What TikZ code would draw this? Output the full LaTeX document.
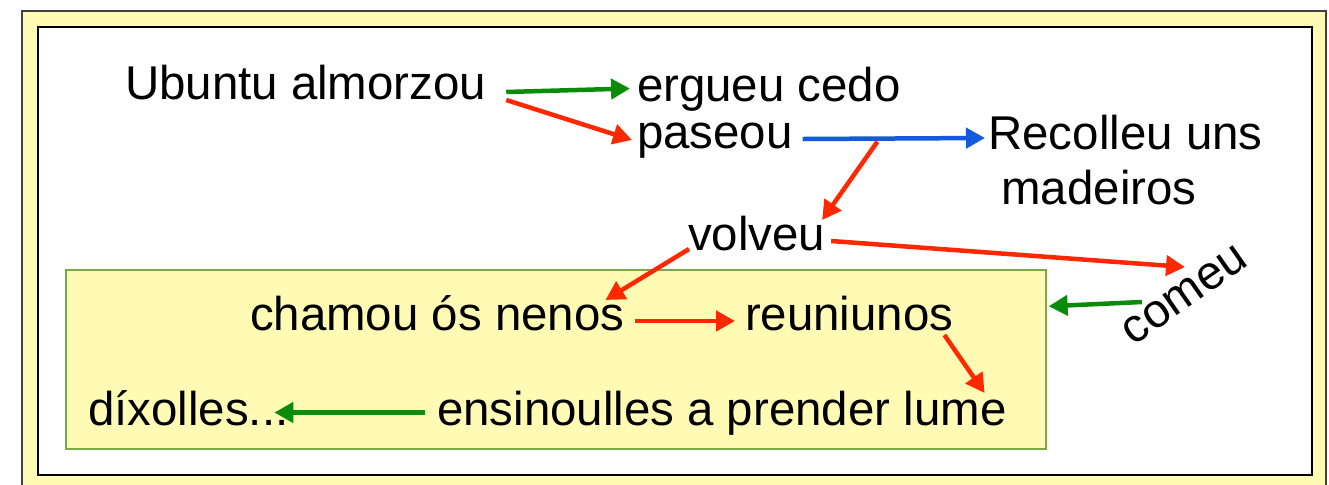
\documentclass[tikz,border=0pt]{standalone}
\usepackage{fontspec}
\setmainfont{Liberation Sans}
\usetikzlibrary{arrows.meta}

\definecolor{linkgreen}{RGB}{10,140,10}
\definecolor{linkred}{RGB}{255,40,0}
\definecolor{linkblue}{RGB}{20,90,220}
\definecolor{paleyellow}{RGB}{255,250,180}
\definecolor{boxgreen}{RGB}{120,170,70}

\begin{document}
\begin{tikzpicture}[x=0.02cm,y=-0.02cm,
    word/.style={font=\fontsize{27}{31.3}\selectfont, inner sep=0pt, outer sep=0pt,
                 anchor=base west, text height=0.7cm, text depth=0.2cm},
    link/.style={line width=0.09cm, -{Triangle[length=0.38cm,width=0.4cm]}}]
    \useasboundingbox (0,0) rectangle (1329,484);
    \clip (0,0) rectangle (1329,484);
    % frame
    \draw[fill=paleyellow, draw=black!75, line width=0.035cm] (22,11) rectangle (1326,520);
    \draw[fill=white, line width=0.04cm] (38,27) rectangle (1312,475);
    \node[draw=boxgreen, fill=paleyellow, line width=0.03cm, inner sep=0pt,
          minimum width=19.6cm, minimum height=3.58cm] (fire) at (556,359.5) {};
    % words
    \node[word] (ubuntu) at (125,99) {Ubuntu almorzou};
    \node[word] (ergueu) at (637,101) {ergueu cedo};
    \node[word] (paseou) at (637,148) {paseou};
    \node[font=\fontsize{27}{31.3}\selectfont, inner sep=0pt, align=left, anchor=north west]
        (recolleu) at (988,115) {Recolleu uns\\\hspace*{0.26cm}madeiros};
    \node[word] (volveu) at (688,250) {volveu};
    \node[word, anchor=center, rotate=35] (comeu) at (1185,295) {comeu};
    \node[word] (chamou) at (250,330) {chamou ós nenos};
    \node[word] (reuniunos) at (745,330) {reuniunos};
    \node[word] (ensinoulles) at (437,425) {ensinoulles a prender lume};
    \node[word] (dixolles) at (88,425) {díxolles...};
    % arrows
    \draw[link, linkgreen] ([shift={(20,5.5)}]ubuntu.east) -- ([shift={(-7,0)}]ergueu.west);
    \draw[link, linkred] ([shift={(20,13.5)}]ubuntu.east) -- ([shift={(-5,4.5)}]paseou.west);
    \draw[link, linkblue] ([shift={(10,3.5)}]paseou.east) -- coordinate[pos=0.41] (branch)
        ([shift={(-3,23)}]recolleu.north west);
    \draw[link, linkred] ([shift={(0,3)}]branch) -- ([shift={(-3,5)}]volveu.north east);
    \draw[link, linkred] ([shift={(6,3.5)}]volveu.east) -- ([shift={(0,-28)}]comeu.center);
    \draw[link, linkred] ([shift={(1,-11)}]volveu.south west) -- ([shift={(-19,5)}]chamou.north east);
    \draw[link, linkred] ([shift={(11,3.5)}]chamou.east) -- ([shift={(-10,3.5)}]reuniunos.west);
    \draw[link, linkred] ([shift={(-9,-5)}]reuniunos.south east) -- ([shift={(-22,3)}]ensinoulles.north east);
    \draw[link, linkgreen] ([shift={(-43,7)}]comeu.center) -- ([shift={(2,37)}]fire.north east);
    \draw[link, linkgreen] ([shift={(-12,0)}]ensinoulles.west) -- ([shift={(-14,0)}]dixolles.east);
\end{tikzpicture}
\end{document}
